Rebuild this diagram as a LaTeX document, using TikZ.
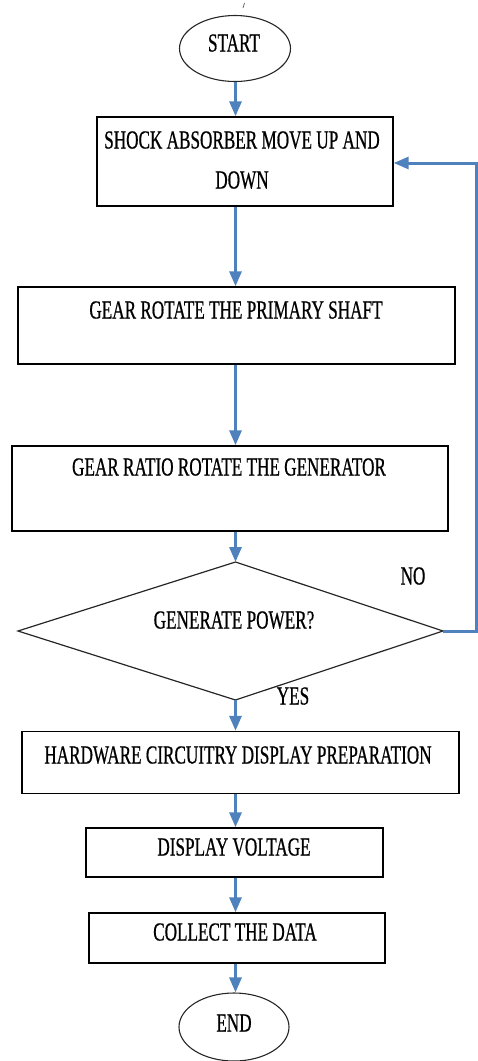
\documentclass[tikz,border=0pt]{standalone}
\usepackage{fontspec}
\setmainfont{Liberation Serif}[FakeStretch=0.66,FakeBold=0.6]
\usetikzlibrary{arrows.meta,shapes.geometric}
\definecolor{flowblue}{RGB}{79,129,189}
\tikzset{
  box/.style={draw=black, line width=1.4pt, rectangle, inner sep=0pt},
  term/.style={draw=black!85, line width=1.1pt, ellipse, inner sep=0pt},
  txt/.style={font=\fontsize{26}{29}\selectfont, anchor=base, inner sep=0pt},
  flow/.style={draw=flowblue, line width=3pt, -{Triangle[width=12pt,length=15pt]}},
  loopline/.style={draw=flowblue, line width=3pt, -{Triangle[width=12pt,length=15pt]}}
}
\begin{document}
\begin{tikzpicture}[x=1pt,y=-1pt]
\useasboundingbox (0,0) rectangle (478,1061);
% stray mark
\draw[black!60, line width=0.8pt] (244.5,3) -- (243,8);
% terminals
\node[term, minimum width=111pt, minimum height=66pt] (start) at (235,48.5) {};
\node[txt] (tstart) at (234,51.5) {START};
\node[term, minimum width=110pt, minimum height=68pt] (end) at (234,1027) {};
\node[txt] (tend) at (234,1031.5) {END};
% boxes
\node[box, minimum width=296pt, minimum height=89pt] (b1) at (245,161.5) {};
\node[txt] (t1a) at (242,148.5) {SHOCK ABSORBER MOVE UP AND};
\node[txt] (t1b) at (242,188.5) {DOWN};
\node[box, minimum width=437pt, minimum height=77pt] (b2) at (236.5,325.5) {};
\node[txt] (t2) at (236,318.5) {GEAR ROTATE THE PRIMARY SHAFT};
\node[box, minimum width=436pt, minimum height=85pt] (b3) at (230,488.5) {};
\node[txt] (t3) at (229,475.5) {GEAR RATIO ROTATE THE GENERATOR};
\node[box, minimum width=437pt, minimum height=62pt] (b4) at (240.5,762.5) {};
\node[txt] (t4) at (238,763.5) {HARDWARE CIRCUITRY DISPLAY PREPARATION};
\node[box, minimum width=297pt, minimum height=49pt] (b5) at (234.5,852.5) {};
\node[txt] (t5) at (234,855.5) {DISPLAY VOLTAGE};
\node[box, minimum width=296pt, minimum height=50pt] (b6) at (237,938) {};
\node[txt] (t6) at (235,940.5) {COLLECT THE DATA};
% decision
\coordinate (dtop) at (235.5,562);
\coordinate (dright) at (443,631);
\coordinate (dbottom) at (235.5,700);
\coordinate (dleft) at (18,631);
\draw[black!85, line width=1.2pt] (dtop) -- (dright) -- (dbottom) -- (dleft) -- cycle;
\node[txt] (tdec) at (234,628.5) {GENERATE POWER?};
\node[txt] (tno) at (413,584.5) {NO};
\node[txt] (tyes) at (293,704.5) {YES};
% connectors
\draw[flow] (start.south -| 235.5,0) -- (b1.north -| 235.5,0);
\draw[flow] (b1.south -| 235.5,0) -- (b2.north -| 235.5,0);
\draw[flow] (b2.south -| 235.5,0) -- (b3.north -| 235.5,0);
\draw[flow] (b3.south -| 235.5,0) -- (dtop);
\draw[flow] (dbottom) -- (b4.north -| 235.5,0);
\draw[flow] (b4.south -| 235.5,0) -- (b5.north -| 235.5,0);
\draw[flow] (b5.south -| 235.5,0) -- (b6.north -| 235.5,0);
\draw[flow] (b6.south -| 235.5,0) -- (end.north -| 235.5,0);
\coordinate (lc) at (476,631);
\draw[loopline] (dright) -- (lc) |- (b1.east |- 0,163);
\end{tikzpicture}
\end{document}
